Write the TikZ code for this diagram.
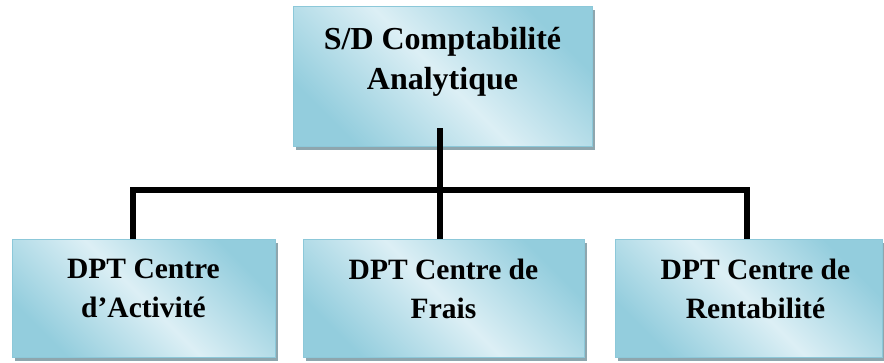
\documentclass[tikz,border=0pt]{standalone}
\usepackage{fontspec}
\setmainfont{Liberation Serif}
\usetikzlibrary{shadows}

\definecolor{boxdark}{HTML}{93CDDD}
\definecolor{boxlight}{HTML}{DCEFF5}
\definecolor{boxedge}{HTML}{8CC8D9}
\definecolor{boxshadow}{HTML}{8EA6AE}

\tikzset{
  unit/.style={
    draw=boxedge, line width=1pt, inner sep=0pt,
    top color=boxdark, bottom color=boxdark, middle color=boxlight,
    shading angle=-45,
    drop shadow={shadow xshift=3pt, shadow yshift=-3pt, fill=boxshadow, opacity=1}
  },
  label/.style={font=\bfseries, align=center, inner sep=0pt, anchor=north},
  headfont/.style={font=\fontsize{32}{40}\selectfont\bfseries},
  subfont/.style={font=\fontsize{29.5}{39}\selectfont\bfseries},
  bus line/.style={line width=5.5pt, line join=miter, draw=black}
}

\begin{document}
\begin{tikzpicture}[x=1pt, y=-1pt]
  \useasboundingbox (0,0) rectangle (884,363);

  % boxes
  \node[unit, minimum width=299pt, minimum height=140pt] (head) at (442.5,77) {};
  \node[unit, minimum width=263pt, minimum height=118pt] (left) at (143.5,299) {};
  \node[unit, minimum width=281pt, minimum height=118pt] (mid) at (443.5,299) {};
  \node[unit, minimum width=267pt, minimum height=118pt] (right) at (748.5,299) {};

  % connectors
  \coordinate (bus) at (440,190);
  \draw[bus line] ([xshift=-2.5pt,yshift=19pt]head.south) -- (bus);
  \draw[bus line] ([xshift=-10.5pt]left.north) |- (bus)
                  -| ([xshift=-1.5pt]right.north);
  \draw[bus line] (bus) -- ([xshift=-3.5pt]mid.north);

  % labels
  \node[label, headfont] (headtxt) at ([yshift=-21pt]head.north)
    {S/D Comptabilité\\Analytique};
  \node[label, subfont] (lefttxt) at ([yshift=-19pt]left.north)
    {DPT Centre\\d’Activité};
  \node[label, subfont] (midtxt) at ([yshift=-19pt]mid.north)
    {DPT Centre de\\Frais};
  \node[label, subfont] (righttxt) at ([xshift=7pt,yshift=-19pt]right.north)
    {DPT Centre de\\Rentabilité};
\end{tikzpicture}
\end{document}
